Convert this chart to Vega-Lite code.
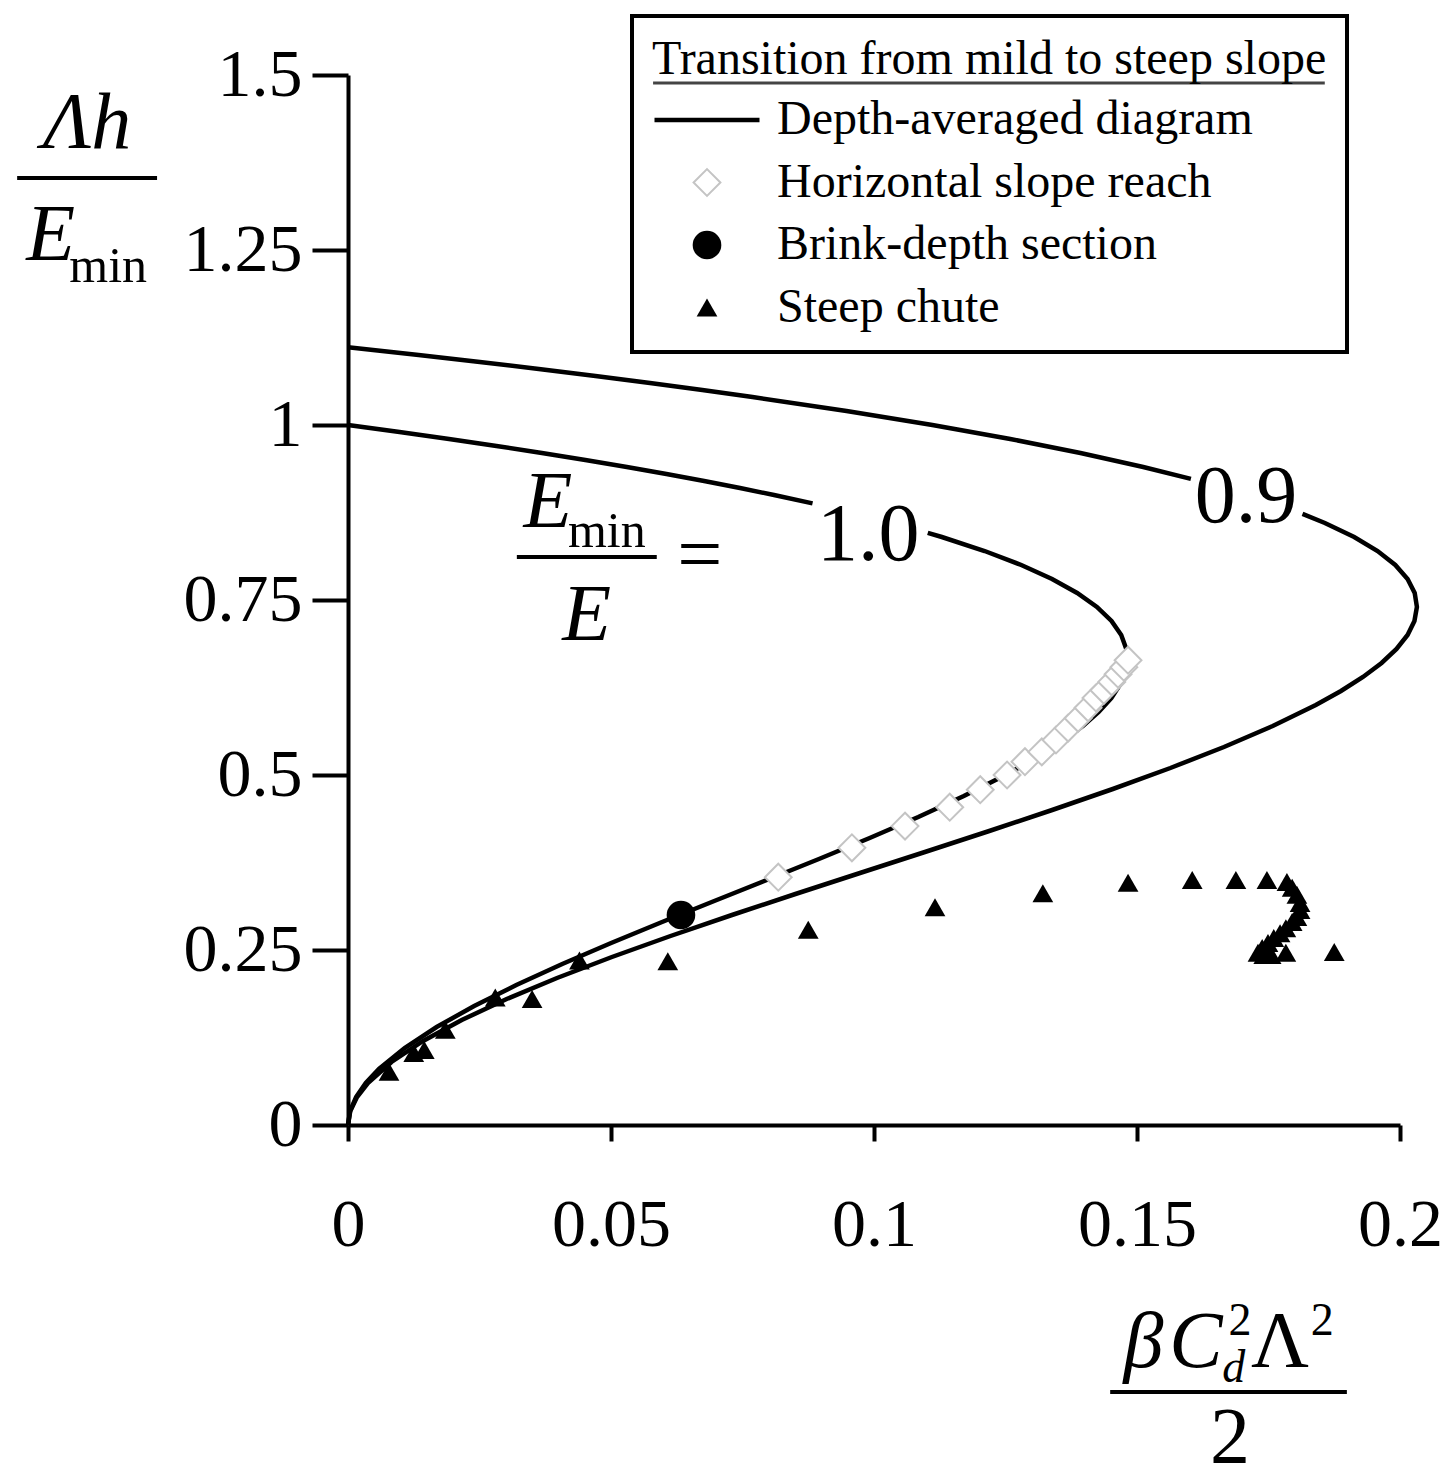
{
  "$schema": "https://vega.github.io/schema/vega-lite/v6.json",
  "width": 1052,
  "height": 1050,
  "autosize": {"type": "none"},
  "padding": {"left": 348, "top": 75, "right": 47, "bottom": 357},
  "background": "white",
  "datasets": {
    "curves": [
      {"seg": "c10a", "x": 0, "y": 1.0},
      {"seg": "c10a", "x": 0.009801, "y": 0.99},
      {"seg": "c10a", "x": 0.019208, "y": 0.98},
      {"seg": "c10a", "x": 0.028227, "y": 0.97},
      {"seg": "c10a", "x": 0.036864, "y": 0.96},
      {"seg": "c10a", "x": 0.045125, "y": 0.95},
      {"seg": "c10a", "x": 0.053016, "y": 0.94},
      {"seg": "c10a", "x": 0.060543, "y": 0.93},
      {"seg": "c10a", "x": 0.067712, "y": 0.92},
      {"seg": "c10a", "x": 0.074529, "y": 0.91},
      {"seg": "c10a", "x": 0.081, "y": 0.90},
      {"seg": "c10a", "x": 0.088317, "y": 0.888},
      {"seg": "c10b", "x": 0.110220, "y": 0.846},
      {"seg": "c10b", "x": 0.112896, "y": 0.84},
      {"seg": "c10b", "x": 0.121032, "y": 0.82},
      {"seg": "c10b", "x": 0.128, "y": 0.80},
      {"seg": "c10b", "x": 0.133848, "y": 0.78},
      {"seg": "c10b", "x": 0.138624, "y": 0.76},
      {"seg": "c10b", "x": 0.142376, "y": 0.74},
      {"seg": "c10b", "x": 0.145152, "y": 0.72},
      {"seg": "c10b", "x": 0.147, "y": 0.70},
      {"seg": "c10b", "x": 0.147968, "y": 0.68},
      {"seg": "c10b", "x": 0.148148, "y": 0.667},
      {"seg": "c10b", "x": 0.147875, "y": 0.65},
      {"seg": "c10b", "x": 0.146853, "y": 0.63},
      {"seg": "c10b", "x": 0.145119, "y": 0.61},
      {"seg": "c10b", "x": 0.142721, "y": 0.59},
      {"seg": "c10b", "x": 0.139707, "y": 0.57},
      {"seg": "c10b", "x": 0.136125, "y": 0.55},
      {"seg": "c10b", "x": 0.129792, "y": 0.52},
      {"seg": "c10b", "x": 0.125, "y": 0.50},
      {"seg": "c10b", "x": 0.117077, "y": 0.47},
      {"seg": "c10b", "x": 0.108416, "y": 0.44},
      {"seg": "c10b", "x": 0.099179, "y": 0.41},
      {"seg": "c10b", "x": 0.089528, "y": 0.38},
      {"seg": "c10b", "x": 0.079625, "y": 0.35},
      {"seg": "c10b", "x": 0.069632, "y": 0.32},
      {"seg": "c10b", "x": 0.059711, "y": 0.29},
      {"seg": "c10b", "x": 0.050024, "y": 0.26},
      {"seg": "c10b", "x": 0.040733, "y": 0.23},
      {"seg": "c10b", "x": 0.032, "y": 0.20},
      {"seg": "c10b", "x": 0.023987, "y": 0.17},
      {"seg": "c10b", "x": 0.016856, "y": 0.14},
      {"seg": "c10b", "x": 0.010769, "y": 0.11},
      {"seg": "c10b", "x": 0.005888, "y": 0.08},
      {"seg": "c10b", "x": 0.003384, "y": 0.06},
      {"seg": "c10b", "x": 0.001536, "y": 0.04},
      {"seg": "c10b", "x": 0.000392, "y": 0.02},
      {"seg": "c10b", "x": 0, "y": 0},
      {"seg": "c09a", "x": 0, "y": 1.1111},
      {"seg": "c09a", "x": 0.013431, "y": 1.10},
      {"seg": "c09a", "x": 0.025069, "y": 1.09},
      {"seg": "c09a", "x": 0.036275, "y": 1.08},
      {"seg": "c09a", "x": 0.047055, "y": 1.07},
      {"seg": "c09a", "x": 0.057416, "y": 1.06},
      {"seg": "c09a", "x": 0.067363, "y": 1.05},
      {"seg": "c09a", "x": 0.076902, "y": 1.04},
      {"seg": "c09a", "x": 0.094780, "y": 1.02},
      {"seg": "c09a", "x": 0.1111, "y": 1.00},
      {"seg": "c09a", "x": 0.125908, "y": 0.98},
      {"seg": "c09a", "x": 0.139254, "y": 0.96},
      {"seg": "c09a", "x": 0.151184, "y": 0.94},
      {"seg": "c09a", "x": 0.160248, "y": 0.923},
      {"seg": "c09b", "x": 0.181463, "y": 0.873},
      {"seg": "c09b", "x": 0.185714, "y": 0.86},
      {"seg": "c09b", "x": 0.191288, "y": 0.84},
      {"seg": "c09b", "x": 0.195736, "y": 0.82},
      {"seg": "c09b", "x": 0.199104, "y": 0.80},
      {"seg": "c09b", "x": 0.201441, "y": 0.78},
      {"seg": "c09b", "x": 0.202795, "y": 0.76},
      {"seg": "c09b", "x": 0.203214, "y": 0.74},
      {"seg": "c09b", "x": 0.202746, "y": 0.72},
      {"seg": "c09b", "x": 0.201439, "y": 0.70},
      {"seg": "c09b", "x": 0.199341, "y": 0.68},
      {"seg": "c09b", "x": 0.196499, "y": 0.66},
      {"seg": "c09b", "x": 0.192963, "y": 0.64},
      {"seg": "c09b", "x": 0.188779, "y": 0.62},
      {"seg": "c09b", "x": 0.183996, "y": 0.60},
      {"seg": "c09b", "x": 0.175803, "y": 0.57},
      {"seg": "c09b", "x": 0.166533, "y": 0.54},
      {"seg": "c09b", "x": 0.156346, "y": 0.51},
      {"seg": "c09b", "x": 0.145405, "y": 0.48},
      {"seg": "c09b", "x": 0.133873, "y": 0.45},
      {"seg": "c09b", "x": 0.121910, "y": 0.42},
      {"seg": "c09b", "x": 0.109679, "y": 0.39},
      {"seg": "c09b", "x": 0.097343, "y": 0.36},
      {"seg": "c09b", "x": 0.085062, "y": 0.33},
      {"seg": "c09b", "x": 0.072999, "y": 0.30},
      {"seg": "c09b", "x": 0.061316, "y": 0.27},
      {"seg": "c09b", "x": 0.050175, "y": 0.24},
      {"seg": "c09b", "x": 0.039739, "y": 0.21},
      {"seg": "c09b", "x": 0.030168, "y": 0.18},
      {"seg": "c09b", "x": 0.021625, "y": 0.15},
      {"seg": "c09b", "x": 0.014272, "y": 0.12},
      {"seg": "c09b", "x": 0.008271, "y": 0.09},
      {"seg": "c09b", "x": 0.003784, "y": 0.06},
      {"seg": "c09b", "x": 0.001714, "y": 0.04},
      {"seg": "c09b", "x": 0.000436, "y": 0.02},
      {"seg": "c09b", "x": 0, "y": 0}
    ],
    "points": [
      {"series": "Horizontal slope reach", "x": 0.0818, "y": 0.354},
      {"series": "Horizontal slope reach", "x": 0.0958, "y": 0.396},
      {"series": "Horizontal slope reach", "x": 0.1059, "y": 0.427},
      {"series": "Horizontal slope reach", "x": 0.1144, "y": 0.454},
      {"series": "Horizontal slope reach", "x": 0.1202, "y": 0.479},
      {"series": "Horizontal slope reach", "x": 0.1253, "y": 0.500},
      {"series": "Horizontal slope reach", "x": 0.1287, "y": 0.519},
      {"series": "Horizontal slope reach", "x": 0.1319, "y": 0.533},
      {"series": "Horizontal slope reach", "x": 0.1346, "y": 0.550},
      {"series": "Horizontal slope reach", "x": 0.1369, "y": 0.567},
      {"series": "Horizontal slope reach", "x": 0.1388, "y": 0.581},
      {"series": "Horizontal slope reach", "x": 0.1407, "y": 0.596},
      {"series": "Horizontal slope reach", "x": 0.1422, "y": 0.610},
      {"series": "Horizontal slope reach", "x": 0.1437, "y": 0.621},
      {"series": "Horizontal slope reach", "x": 0.1452, "y": 0.633},
      {"series": "Horizontal slope reach", "x": 0.1464, "y": 0.644},
      {"series": "Horizontal slope reach", "x": 0.1475, "y": 0.654},
      {"series": "Horizontal slope reach", "x": 0.1483, "y": 0.664},
      {"series": "Brink-depth section", "x": 0.0633, "y": 0.300},
      {"series": "Steep chute", "x": 0.0078, "y": 0.076},
      {"series": "Steep chute", "x": 0.0125, "y": 0.103},
      {"series": "Steep chute", "x": 0.0145, "y": 0.107},
      {"series": "Steep chute", "x": 0.0185, "y": 0.136},
      {"series": "Steep chute", "x": 0.0280, "y": 0.182},
      {"series": "Steep chute", "x": 0.0350, "y": 0.180},
      {"series": "Steep chute", "x": 0.0440, "y": 0.235},
      {"series": "Steep chute", "x": 0.0608, "y": 0.234},
      {"series": "Steep chute", "x": 0.0875, "y": 0.279},
      {"series": "Steep chute", "x": 0.1116, "y": 0.311},
      {"series": "Steep chute", "x": 0.1321, "y": 0.331},
      {"series": "Steep chute", "x": 0.1483, "y": 0.346},
      {"series": "Steep chute", "x": 0.1605, "y": 0.350},
      {"series": "Steep chute", "x": 0.1688, "y": 0.350},
      {"series": "Steep chute", "x": 0.1747, "y": 0.350},
      {"series": "Steep chute", "x": 0.1785, "y": 0.347},
      {"series": "Steep chute", "x": 0.1795, "y": 0.339},
      {"series": "Steep chute", "x": 0.1804, "y": 0.329},
      {"series": "Steep chute", "x": 0.1810, "y": 0.317},
      {"series": "Steep chute", "x": 0.1810, "y": 0.307},
      {"series": "Steep chute", "x": 0.1804, "y": 0.297},
      {"series": "Steep chute", "x": 0.1795, "y": 0.290},
      {"series": "Steep chute", "x": 0.1783, "y": 0.281},
      {"series": "Steep chute", "x": 0.1772, "y": 0.274},
      {"series": "Steep chute", "x": 0.1760, "y": 0.267},
      {"series": "Steep chute", "x": 0.1749, "y": 0.260},
      {"series": "Steep chute", "x": 0.1738, "y": 0.253},
      {"series": "Steep chute", "x": 0.1730, "y": 0.246},
      {"series": "Steep chute", "x": 0.1741, "y": 0.243},
      {"series": "Steep chute", "x": 0.1755, "y": 0.243},
      {"series": "Steep chute", "x": 0.1783, "y": 0.246},
      {"series": "Steep chute", "x": 0.1875, "y": 0.247}
    ],
    "curveLabels": [
      {"text": "1.0", "x": 0.0989, "y": 0.8071},
      {"text": "0.9", "x": 0.1707, "y": 0.8614}
    ],
    "italicBig": [
      {"text": "Λh", "x": -0.0496, "y": 1.3957},
      {"text": "E", "x": -0.0565, "y": 1.2357},
      {"text": "E", "x": 0.0380, "y": 0.8543},
      {"text": "E", "x": 0.0454, "y": 0.6929},
      {"text": "β", "x": 0.1512, "y": -0.3457},
      {"text": "C", "x": 0.1612, "y": -0.3457}
    ],
    "uprightBig": [
      {"text": "=", "x": 0.0669, "y": 0.777},
      {"text": "Λ", "x": 0.1772, "y": -0.3457},
      {"text": "2", "x": 0.1677, "y": -0.4829}
    ],
    "subscripts": [
      {"text": "min", "x": -0.0456, "y": 1.2043},
      {"text": "min", "x": 0.0492, "y": 0.8257}
    ],
    "smallUpright": [
      {"text": "2", "x": 0.1696, "y": -0.300},
      {"text": "2", "x": 0.1852, "y": -0.300}
    ],
    "smallItalic": [
      {"text": "d", "x": 0.1684, "y": -0.367}
    ],
    "bars": [
      {"x": -0.0629, "x2": -0.0363, "y": 1.3529},
      {"x": 0.0321, "x2": 0.0587, "y": 0.8114},
      {"x": 0.1449, "x2": 0.1899, "y": -0.3814}
    ],
    "legendUnderline": [
      {"x": 0.0580, "x2": 0.1857, "y": 1.4886}
    ]
  },
  "layer": [
    {
      "data": {"name": "curves"},
      "mark": {"type": "line", "color": "black", "strokeWidth": 4.5, "interpolate": "linear"},
      "encoding": {
        "x": {"field": "x", "type": "quantitative", "scale": {"domain": [0, 0.2], "nice": false, "zero": false},
          "axis": {"values": [0, 0.05, 0.1, 0.15, 0.2], "labelExpr": "'' + datum.value", "tickSize": 16, "labelPadding": 50, "title": null, "labelFlush": false, "labelOverlap": false}},
        "y": {"field": "y", "type": "quantitative", "scale": {"domain": [0, 1.5], "nice": false, "zero": false},
          "axis": {"values": [0, 0.25, 0.5, 0.75, 1, 1.25, 1.5], "labelExpr": "'' + datum.value", "tickSize": 36, "labelPadding": 10, "title": null, "labelOverlap": false}},
        "detail": {"field": "seg", "type": "nominal"},
        "order": {"field": "y", "type": "quantitative"}
      }
    },
    {
      "data": {"name": "points"},
      "mark": {"type": "point", "opacity": 1, "filled": false},
      "encoding": {
        "x": {"field": "x", "type": "quantitative"},
        "y": {"field": "y", "type": "quantitative"},
        "shape": {"field": "series", "type": "nominal",
          "scale": {"domain": ["Depth-averaged diagram", "Horizontal slope reach", "Brink-depth section", "Steep chute"], "range": ["stroke", "diamond", "circle", "triangle-up"]},
          "legend": {"title": "Transition from mild to steep slope", "orient": "none", "legendX": 284, "legendY": -59}},
        "fill": {"field": "series", "type": "nominal",
          "scale": {"domain": ["Depth-averaged diagram", "Horizontal slope reach", "Brink-depth section", "Steep chute"], "range": ["black", "white", "black", "black"]},
          "legend": {"title": "Transition from mild to steep slope", "orient": "none", "legendX": 284, "legendY": -59}},
        "stroke": {"field": "series", "type": "nominal",
          "scale": {"domain": ["Depth-averaged diagram", "Horizontal slope reach", "Brink-depth section", "Steep chute"], "range": ["black", "#c4c4c4", "black", "black"]},
          "legend": {"title": "Transition from mild to steep slope", "orient": "none", "legendX": 284, "legendY": -59}},
        "size": {"field": "series", "type": "nominal",
          "scale": {"type": "ordinal", "domain": ["Depth-averaged diagram", "Horizontal slope reach", "Brink-depth section", "Steep chute"], "range": [11025, 720, 820, 430]},
          "legend": {"title": "Transition from mild to steep slope", "orient": "none", "legendX": 284, "legendY": -59}},
        "strokeWidth": {"field": "series", "type": "nominal",
          "scale": {"type": "ordinal", "domain": ["Depth-averaged diagram", "Horizontal slope reach", "Brink-depth section", "Steep chute"], "range": [4.5, 2, 0.01, 0.01]},
          "legend": {"title": "Transition from mild to steep slope", "orient": "none", "legendX": 284, "legendY": -59}}
      }
    },
    {
      "data": {"name": "bars"},
      "mark": {"type": "rule", "color": "black", "strokeWidth": 4},
      "encoding": {
        "x": {"field": "x", "type": "quantitative"},
        "x2": {"field": "x2"},
        "y": {"field": "y", "type": "quantitative"}
      }
    },
    {
      "data": {"name": "legendUnderline"},
      "mark": {"type": "rule", "color": "#444444", "strokeWidth": 3},
      "encoding": {
        "x": {"field": "x", "type": "quantitative"},
        "x2": {"field": "x2"},
        "y": {"field": "y", "type": "quantitative"}
      }
    },
    {
      "data": {"name": "curveLabels"},
      "mark": {"type": "text", "font": "Liberation Serif", "fontSize": 82, "align": "center", "baseline": "alphabetic", "color": "black"},
      "encoding": {"x": {"field": "x", "type": "quantitative"}, "y": {"field": "y", "type": "quantitative"}, "text": {"field": "text"}}
    },
    {
      "data": {"name": "italicBig"},
      "mark": {"type": "text", "font": "Liberation Serif", "fontStyle": "italic", "fontSize": 80, "align": "center", "baseline": "alphabetic", "color": "black"},
      "encoding": {"x": {"field": "x", "type": "quantitative"}, "y": {"field": "y", "type": "quantitative"}, "text": {"field": "text"}}
    },
    {
      "data": {"name": "uprightBig"},
      "mark": {"type": "text", "font": "Liberation Serif", "fontSize": 80, "align": "center", "baseline": "alphabetic", "color": "black"},
      "encoding": {"x": {"field": "x", "type": "quantitative"}, "y": {"field": "y", "type": "quantitative"}, "text": {"field": "text"}}
    },
    {
      "data": {"name": "subscripts"},
      "mark": {"type": "text", "font": "Liberation Serif", "fontSize": 50, "align": "center", "baseline": "alphabetic", "color": "black"},
      "encoding": {"x": {"field": "x", "type": "quantitative"}, "y": {"field": "y", "type": "quantitative"}, "text": {"field": "text"}}
    },
    {
      "data": {"name": "smallUpright"},
      "mark": {"type": "text", "font": "Liberation Serif", "fontSize": 46, "align": "center", "baseline": "alphabetic", "color": "black"},
      "encoding": {"x": {"field": "x", "type": "quantitative"}, "y": {"field": "y", "type": "quantitative"}, "text": {"field": "text"}}
    },
    {
      "data": {"name": "smallItalic"},
      "mark": {"type": "text", "font": "Liberation Serif", "fontStyle": "italic", "fontSize": 46, "align": "center", "baseline": "alphabetic", "color": "black"},
      "encoding": {"x": {"field": "x", "type": "quantitative"}, "y": {"field": "y", "type": "quantitative"}, "text": {"field": "text"}}
    }
  ],
  "config": {
    "view": {"stroke": null},
    "axis": {"grid": false, "domainColor": "black", "domainWidth": 4, "tickColor": "black", "tickWidth": 4, "labelFont": "Liberation Serif", "labelFontSize": 68, "labelColor": "black"},
    "legend": {"strokeColor": "black", "strokeWidth": 4, "padding": 20,
      "titleFont": "Liberation Serif", "titleFontSize": 48, "titleFontWeight": "normal", "titleColor": "black", "titlePadding": 13, "titleLimit": 0,
      "labelFont": "Liberation Serif", "labelFontSize": 48, "labelColor": "black", "labelOffset": 15, "labelLimit": 0,
      "symbolOffset": 0, "rowPadding": 14.5, "clipHeight": 46}
  }
}
